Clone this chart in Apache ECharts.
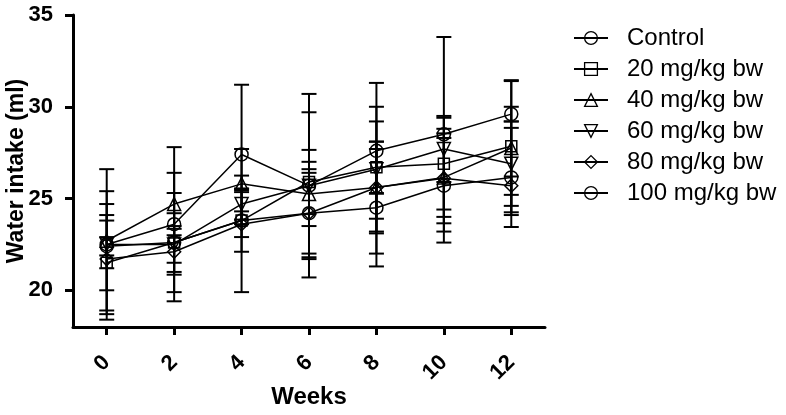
<!DOCTYPE html>
<html>
<head>
<meta charset="utf-8">
<script src="https://cdn.jsdelivr.net/npm/echarts@6/dist/echarts.min.js"></script>
<style>html,body{margin:0;padding:0;background:#fff}#c{width:786px;height:415px}</style>
</head>
<body>
<div id="c"></div>
<script>
const weeks = [0, 2, 4, 6, 8, 10, 12];
const xTicks = [0, 2, 4, 6, 8, 10, 12];
const yTicks = [20, 25, 30, 35];
const seriesNames = ['Control', '20 mg/kg bw', '40 mg/kg bw', '60 mg/kg bw', '80 mg/kg bw', '100 mg/kg bw'];
const control    = [22.5, 23.6, 27.4, 25.7, 27.6, 28.5, 29.6];
const controlErr = [4.1, 4.2, 3.8, 5.0, 3.7, 5.3, 0.4];
const mg20       = [21.5, 22.6, 23.8, 25.9, 26.7, 26.9, 27.85];
const mg20Err    = [2.6, 2.7, 1.7, 1.75, 1.4, 2.5, 3.6];
const mg40       = [22.7, 24.7, 25.8, 25.25, 25.6, 26.15, 27.75];
const mg40Err    = [2.7, 1.7, 0.45, 1.75, 3.6, 2.15, 3.65];
const mg60       = [22.5, 22.5, 24.7, 25.7, 26.6, 27.7, 26.9];
const mg60Err    = [1.3, 1.0, 0.85, 4.0, 3.4, 1.8, 2.3];
const mg80       = [21.7, 22.1, 23.6, 24.2, 25.6, 26.1, 25.7];
const mg80Err    = [3.0, 1.25, 0.7, 2.2, 2.5, 2.45, 0.5];
const mg100      = [22.4, 22.6, 23.8, 24.2, 24.5, 25.7, 26.15];
const mg100Err   = [0.5, 1.6, 3.9, 2.4, 3.2, 3.1, 2.7];

const values = [control, mg20, mg40, mg60, mg80, mg100];
const errors = [controlErr, mg20Err, mg40Err, mg60Err, mg80Err, mg100Err];
const symbols = ['circle', 'rect', 'triangle', 'triangle', 'diamond', 'circle'];
const rotates = [0, 0, 0, 180, 0, 0];
const FONT = 'Arial, "Liberation Sans", sans-serif';

function errRender(params, api) {
  const x = api.value(0), y = api.value(1), e = api.value(2);
  const t = api.coord([x, y + e]), b = api.coord([x, y - e]);
  const hw = 7.5;
  const st = { stroke: '#000', lineWidth: 2 };
  return { type: 'group', children: [
    { type: 'line', shape: { x1: t[0], y1: t[1], x2: b[0], y2: b[1] }, style: st },
    { type: 'line', shape: { x1: t[0] - hw, y1: t[1], x2: t[0] + hw, y2: t[1] }, style: st },
    { type: 'line', shape: { x1: b[0] - hw, y1: b[1], x2: b[0] + hw, y2: b[1] }, style: st }
  ]};
}

const series = [];
values.forEach((v, i) => {
  series.push({
    type: 'custom', name: 'err' + i, renderItem: errRender,
    data: weeks.map((w, k) => [w, v[k], errors[i][k]]), z: 3, silent: true
  });
});
values.forEach((v, i) => {
  series.push({
    type: 'line', name: seriesNames[i],
    data: weeks.map((w, k) => [w, v[k]]),
    symbol: symbols[i], symbolSize: symbols[i] === 'rect' ? 11 : 13, symbolRotate: rotates[i],
    showAllSymbol: true,
    lineStyle: { color: '#000', width: 1.5 },
    itemStyle: { color: 'rgba(255,255,255,0)', borderColor: '#000', borderWidth: 1.5 },
    z: 4
  });
});

const chart = echarts.init(document.getElementById('c'));
chart.setOption({
  animation: false,
  backgroundColor: '#fff',
  grid: { left: 73, right: 241, top: 15, bottom: 88, containLabel: false, outerBoundsMode: 'none' },
  legend: {
    data: seriesNames, orient: 'vertical', left: 573, top: 26, padding: 0,
    itemWidth: 34, itemHeight: 16, itemGap: 7,
    textStyle: { fontFamily: FONT, fontSize: 24, color: '#000', lineHeight: 24, padding: [0, 0, 0, 14] },
    itemStyle: { borderWidth: 1.3 }
  },
  xAxis: {
    type: 'value', min: -1, max: 13,
    name: 'Weeks', nameLocation: 'middle', nameGap: 58, nameMoveOverlap: false,
    nameTextStyle: { fontFamily: FONT, fontSize: 24, fontWeight: 'bold', color: '#000' },
    axisLine: { onZero: false, lineStyle: { color: '#000', width: 3 } },
    axisTick: { customValues: xTicks, length: 8, lineStyle: { color: '#000', width: 3 } },
    axisLabel: { customValues: xTicks, rotate: 45, margin: 32, fontFamily: FONT, fontSize: 22, fontWeight: 'bold', color: '#000' },
    splitLine: { show: false }
  },
  yAxis: {
    type: 'value', min: 18, max: 35,
    name: 'Water intake (ml)', nameLocation: 'middle', nameGap: 45, nameMoveOverlap: false,
    nameTextStyle: { fontFamily: FONT, fontSize: 23, fontWeight: 'bold', color: '#000' },
    axisLine: { show: true, onZero: false, lineStyle: { color: '#000', width: 3 } },
    axisTick: { show: true, customValues: yTicks, length: 8, lineStyle: { color: '#000', width: 3 } },
    axisLabel: { customValues: yTicks, margin: 20, fontFamily: FONT, fontSize: 22, fontWeight: 'bold', color: '#000' },
    splitLine: { show: false }
  },
  series: series
});
</script>
</body>
</html>
